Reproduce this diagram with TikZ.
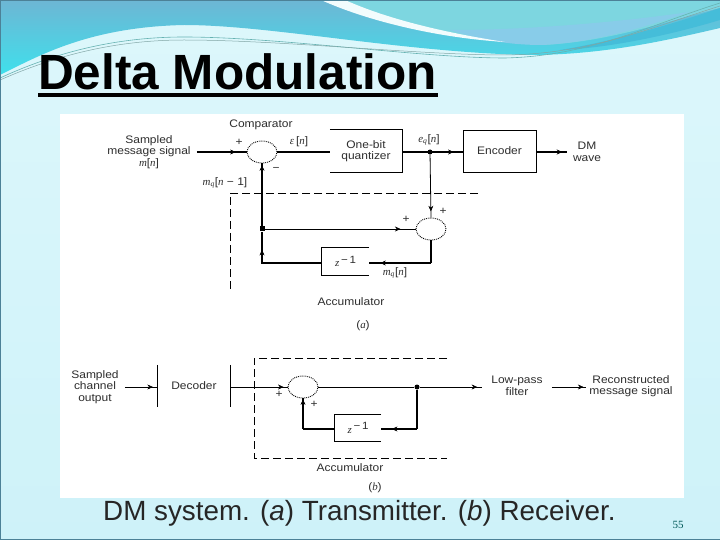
\documentclass[tikz,border=0pt]{standalone}
\usepackage{fontspec}
\setmainfont{Liberation Sans}
\newfontfamily\serifit[ItalicFont=Liberation Serif Italic]{Liberation Serif}
\newfontfamily\diagfont[FakeStretch=1.1]{Liberation Sans}
\usetikzlibrary{shapes.geometric,arrows.meta,decorations.markings,calc}
\definecolor{bodybg}{HTML}{CEF2F9}
\definecolor{bodytop}{HTML}{DDF7FB}
\definecolor{inktext}{HTML}{2E2E2E}
\definecolor{framecol}{HTML}{4C8197}
\definecolor{bandtop}{HTML}{6DB6D4}
\definecolor{bandmid}{HTML}{74BFDB}
\definecolor{bandlow}{HTML}{3FE0EC}
\definecolor{lobe}{HTML}{7DD6E0}
\definecolor{lobeblue}{HTML}{88CCE9}
\definecolor{ribbon}{HTML}{45BDD9}
\definecolor{swoosh}{HTML}{F2FCFD}
\newcommand{\mi}[1]{{\serifit\itshape #1}}
\newcommand{\zinv}{\mi{z}\raisebox{3.5pt}{\fontsize{10.5}{10.5}\selectfont\,\textminus\,1}}
\tikzset{
  x=1pt,y=-1pt,
  wire/.style={line width=0.8pt,black},
  bus/.style={line width=2.2pt,black},
  midhead/.style={decoration={markings,mark=at position #1 with {\arrow[line width=0.5pt]{Stealth[length=5.5pt,width=5pt]}}},postaction=decorate},
  lab/.style={font=\diagfont\fontsize{10.9}{11.4}\selectfont,text=inktext,align=center,inner sep=0pt},
  sumj/.style={ellipse,draw,line width=0.9pt,densely dotted,minimum width=30pt,minimum height=22pt,inner sep=0pt},
  blockempty/.style={inner sep=0pt,lab},
  dashframe/.style={line width=0.8pt,dash pattern=on 8pt off 4pt},
  junction/.style={circle,fill=black,inner sep=0pt,minimum size=5pt},
}
\begin{document}
\begin{tikzpicture}
\useasboundingbox (0,0) rectangle (720,540);
% background
\shade[top color=bodytop,bottom color=bodybg] (0,0) rectangle (720,540);
% top band
\shade[top color=bandtop,middle color=bandmid,bottom color=bandlow]
  (0,0) -- (0,75) .. controls (40,55) and (90,27) .. (184,25)
  .. controls (270,25) and (400,52) .. (528,55)
  .. controls (600,55) and (660,42) .. (720,28) -- (720,0) -- cycle;
% upper right lobe
\fill[lobe] (335,0) .. controls (400,25) and (470,40) .. (542,45)
  .. controls (610,42) and (670,20) .. (720,8) -- (720,0) -- cycle;
\fill[lobeblue] (450,30) .. controls (480,40) and (510,45) .. (542,45)
  .. controls (600,42) and (650,25) .. (690,12) .. controls (620,22) and (530,30) .. (450,30) -- cycle;
% white swoosh
\fill[swoosh] (321,0) .. controls (370,22) and (440,38) .. (505,42)
  .. controls (440,32) and (385,18) .. (345,0) -- cycle;
% darker ribbon right
\fill[ribbon] (560,50) .. controls (610,42) and (670,25) .. (720,8) -- (720,20)
  .. controls (670,35) and (610,48) .. (560,50) -- cycle;
% thin wave lines
\draw[teal!60!white,line width=0.6pt] (0,78) .. controls (50,55) and (110,37) .. (184,37)
  .. controls (280,37) and (420,58) .. (505,58) .. controls (590,56) and (650,25) .. (720,3);
\draw[gray!60!teal!70!white,line width=0.5pt] (0,80) .. controls (50,58) and (110,40) .. (184,40)
  .. controls (280,40) and (420,55) .. (505,55) .. controls (590,54) and (650,28) .. (720,6);
% frame
\draw[framecol,line width=0.8pt] (0,0) rectangle (720,539.5);
% white panel
\fill[white] (60,114) rectangle (684,498);
% title and caption
\node[anchor=base west,inner sep=0pt,font=\bfseries\fontsize{49.5}{49.5}\selectfont] (title) at (38,90) {Delta Modulation};
\fill[black] (title.base west |- 0,93) rectangle (438,97);
\node[anchor=base west,inner sep=0pt,font=\fontsize{27.8}{28}\selectfont,text=black!85] (caption) at (103,520) {DM system. (\textit{a}) Transmitter. (\textit{b}) Receiver.};
\node[inner sep=0pt,font=\serifit\fontsize{11}{11}\selectfont,text=teal!70!black] (pageno) at (678,525) {55};
% --- transmitter nodes
\node[lab,inner sep=6pt] (msg) at (149,152) {Sampled\\message signal\\\mi{m}[\mi{n}]};
\node[sumj] (cmp) at (262,152) {};
\node[lab] (cmplab) at (261,125) {Comparator};
\node[blockempty,minimum width=72pt,minimum height=42pt] (quant) at (366,151) {One-bit\\quantizer};
\node[lab,draw=black,line width=0.8pt,minimum width=73pt,minimum height=42pt] (enc) at (499.5,151) {Encoder};
\node[lab,inner sep=0pt,text width=40pt] (dm) at (587,152) {DM\\wave};
\node[junction] (j1) at (430,152) {};
\node[sumj] (add) at (431,229) {};
\node[junction,rectangle,minimum size=5pt] (j2) at (262,229) {};
\node[blockempty,minimum width=47pt,minimum height=27pt] (za) at (345.5,261.5) {\zinv};
\coordinate (fbc) at (262,263);
\coordinate (adc) at (431,263);
% partial edges of blocks
\draw[wire] (quant.north west) -- (quant.north east) -- (quant.south east) -- (quant.south west);
\draw[wire] (za.north east) -- (za.north west) -- (za.south west) -- (za.south east);
% transmitter connectors
\draw[bus,midhead=0.78] (msg.east |- cmp.west) -- (cmp.west);
\draw[bus] (cmp.east) -- (quant.west |- cmp.east);
\draw[bus,midhead=0.85] (quant.east |- j1) -- (enc.west |- j1);
\draw[bus,midhead=0.85] (enc.east |- dm) -- (dm.west);
\draw[wire,midhead=0.9] (j1) -- (add.north);
\draw[wire,midhead=0.9] (j2) -- (add.west);
\draw[bus,midhead=0.97] (j2) -- (cmp.south);
\draw[bus] (add.south) -- (adc);
\draw[bus,midhead=0.82] (adc) -- (za.east |- adc);
\draw[bus,midhead=0.8] (za.west |- fbc) -- (fbc) -- (j2);
\draw[dashframe] (478,193) -- (230,193) -- (230,292);
% transmitter labels
\node[lab] (p1) at (239,142) {+};
\node[lab] (eps) at (299,142) {\mi{\char"03B5}\,[\mi{n}]};
\node[lab] (m1) at (276,169) {\textminus};
\node[lab] (mq1) at (225,183) {\mi{m}\textsubscript{\mi{q}}[\mi{n} \textminus\ 1]};
\node[lab] (eq) at (429,140) {\mi{e}\textsubscript{\mi{q}}[\mi{n}]};
\node[lab] (p2) at (443,211) {+};
\node[lab] (p3) at (406,219) {+};
\node[lab] (mq) at (395,273) {\mi{m}\textsubscript{\mi{q}}[\mi{n}]};
\node[lab] (acca) at (351,302) {Accumulator};
\node[lab] (capa) at (363,326) {(\mi{a})};
% --- receiver nodes
\node[lab,inner sep=6pt] (chan) at (95,387) {Sampled\\channel\\output};
\node[blockempty,minimum width=72pt,minimum height=42pt] (dec) at (194,386) {Decoder};
\node[sumj] (sum) at (303,387) {};
\node[junction] (j3) at (417,387) {};
\node[lab,inner sep=9pt] (lpf) at (517,386) {Low-pass\\filter};
\node[lab,inner sep=3pt] (rec) at (631,386) {Reconstructed\\message signal};
\node[blockempty,minimum width=46pt,minimum height=27pt] (zb) at (358,428) {\zinv};
\coordinate (fbl) at (303,429);
\coordinate (fbr) at (417,429);
\draw[line width=1pt] (dec.north west) -- (dec.south west);
\draw[line width=1pt] (dec.north east) -- (dec.south east);
\draw[wire] (zb.north east) -- (zb.north west) -- (zb.south west) -- (zb.south east);
% receiver connectors
\draw[wire,midhead=0.85] (chan.east |- dec.west) ++(0,1) -- ($(dec.west)+(0,1)$);
\draw[wire,midhead=0.93] ($(dec.east)+(0,1)$) -- (sum.west);
\draw[wire] (sum.east) -- (j3);
\draw[wire,midhead=0.92] (j3) -- (lpf.west |- j3);
\draw[wire,midhead=0.92] (lpf.east |- j3) -- (rec.west |- j3);
\draw[bus] (j3) -- (fbr);
\draw[bus,midhead=0.7] (fbr) -- (zb.east |- fbr);
\draw[bus] (zb.west |- fbl) -- (fbl);
\draw[bus,midhead=0.97] (fbl) -- (sum.south);
\draw[dashframe] (447,358) -- (254,358) -- (254,458) -- (447,458);
% receiver labels
\node[lab] (p4) at (279,394) {+};
\node[lab] (p5) at (314,404) {+};
\node[lab] (accb) at (350,468) {Accumulator};
\node[lab] (capb) at (375,488) {(\mi{b})};
\end{tikzpicture}
\end{document}
